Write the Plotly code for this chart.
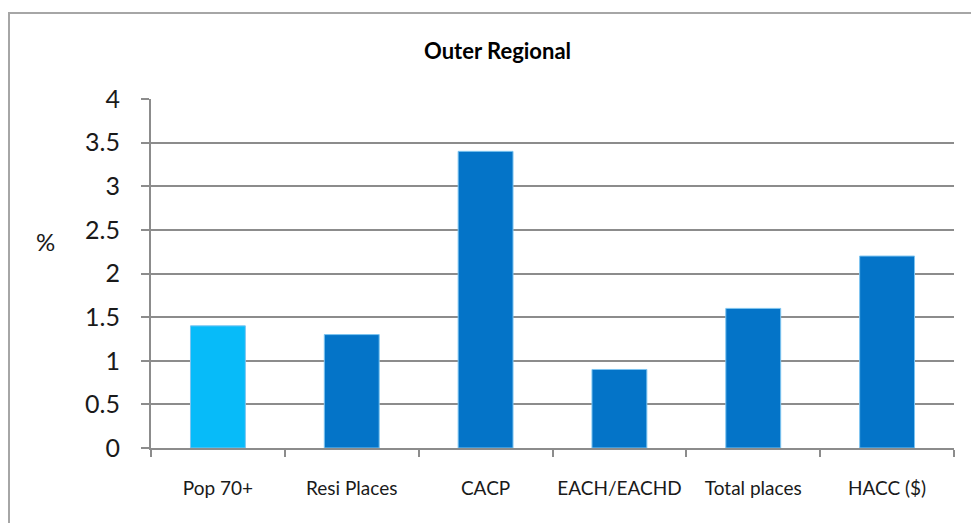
import plotly.graph_objects as go

categories = ["Pop 70+", "Resi Places", "CACP", "EACH/EACHD", "Total places", "HACC ($)"]
values = [1.4, 1.3, 3.4, 0.9, 1.6, 2.2]
bar_colors = ["#07BBF9", "#0474C8", "#0474C8", "#0474C8", "#0474C8", "#0474C8"]
y_ticks = [0, 0.5, 1, 1.5, 2, 2.5, 3, 3.5, 4]
y_tick_labels = ["0", "0.5", "1", "1.5", "2", "2.5", "3", "3.5", "4"]

W, H = 971, 523
L, R, T, B = 151, 17, 99, 75
PW, PH = W - L - R, H - T - B


def px_x(x):
    return (x - L) / PW


def px_y(y):
    return (H - B - y) / PH


fig = go.Figure(go.Bar(
    x=categories, y=values,
    marker=dict(color=bar_colors, line=dict(color="#7cc4f0", width=1)),
    width=0.41,
))

grid = "#8c8c8c"
fig.update_layout(
    width=W, height=H,
    margin=dict(l=L, r=R, t=T, b=B, autoexpand=False),
    paper_bgcolor="white", plot_bgcolor="white",
    showlegend=False,
    font=dict(family="Lato, Carlito, sans-serif", color="#1a1a1a"),
    xaxis=dict(
        type="category",
        automargin=False,
        tickangle=0,
        showline=True, linecolor=grid, linewidth=2,
        ticks="outside", tickson="boundaries", ticklen=7, tickcolor=grid, tickwidth=2,
        tickfont=dict(size=19, color="#1a1a1a"),
        ticklabelstandoff=22,
        showgrid=False,
    ),
    yaxis=dict(
        range=[0, 4],
        automargin=False,
        tickvals=y_ticks, ticktext=y_tick_labels,
        showline=True, linecolor=grid, linewidth=2,
        ticks="outside", ticklen=8, tickcolor=grid, tickwidth=2,
        showgrid=True, gridcolor=grid, gridwidth=2,
        zeroline=False,
        tickfont=dict(size=25, color="#1a1a1a"),
        ticklabelstandoff=16,
    ),
    shapes=[dict(
        type="rect", xref="paper", yref="paper",
        x0=px_x(9), x1=px_x(W + 20),
        y0=px_y(H + 20), y1=px_y(13),
        line=dict(color="#a6a6a6", width=2), fillcolor="rgba(0,0,0,0)", layer="below",
    )],
    annotations=[
        dict(text="<b>Outer Regional</b>", xref="paper", yref="paper",
             x=px_x(497), y=px_y(50),
             xanchor="center", yanchor="middle", showarrow=False,
             font=dict(size=22, color="#000000")),
        dict(text="%", xref="paper", yref="paper",
             x=px_x(45), y=px_y(242),
             xanchor="center", yanchor="middle", showarrow=False,
             font=dict(size=24, color="#1a1a1a")),
    ],
)

fig.write_html(
    "out.html",
    config={"displayModeBar": False},
    post_script="document.body.style.margin='0';document.body.style.overflow='hidden';",
)
